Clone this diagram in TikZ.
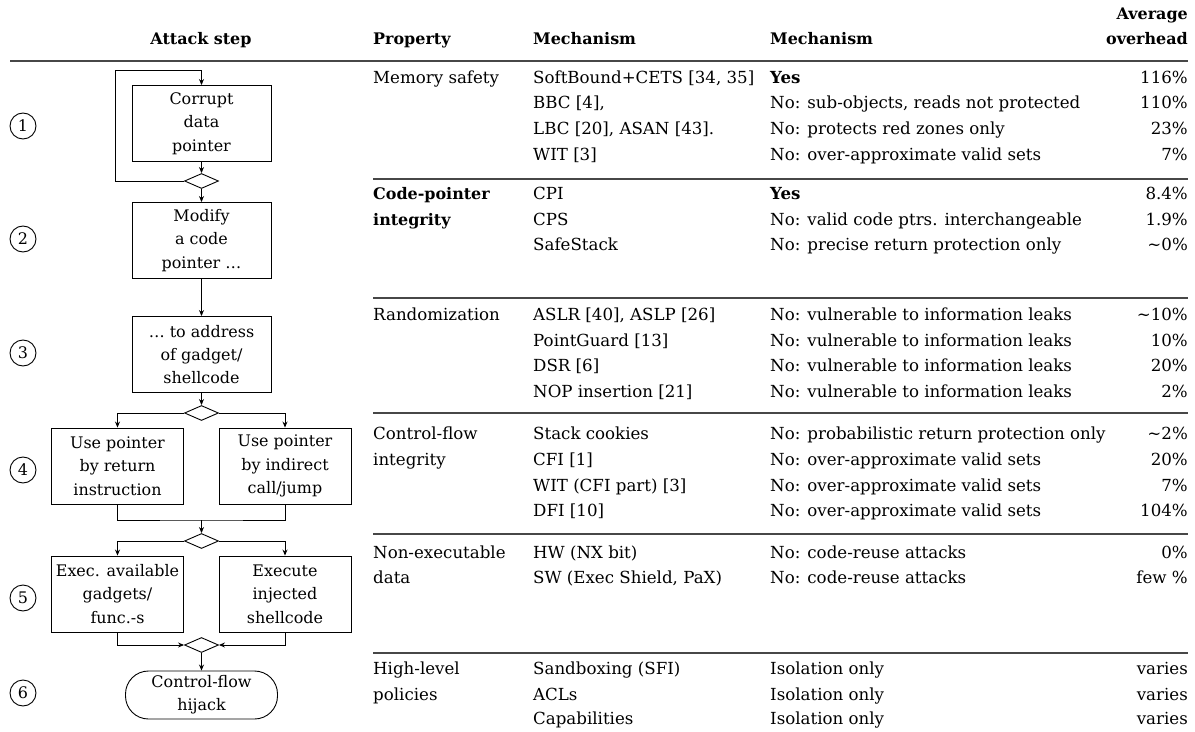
\documentclass[tikz,border=0pt]{standalone}
\usepackage{fontspec}
\setmainfont{DejaVu Serif}
\usetikzlibrary{shapes.geometric,arrows.meta}

% one row of the table: name, y, mechanism, verdict, overhead
\newcommand\trow[5]{%
  \node[cell] (m#1) at (533,#2) {#3};
  \node[cell] (s#1) at (770,#2) {#4};
  \node[ovh]  (o#1) at (1188,#2) {#5};}

\begin{document}
\begin{tikzpicture}[x=1bp,y=-1bp,
  every node/.style={font=\fontsize{16}{23.5}\selectfont},
  flow/.style={draw,line width=0.9bp,align=center,inner sep=0,minimum height=76bp},
  wide/.style={flow,minimum width=139bp},
  half/.style={flow,minimum width=132bp},
  gate/.style={draw,line width=0.9bp,diamond,shape aspect=2.27,inner sep=0,
               minimum width=34bp,minimum height=15bp},
  stepno/.style={draw,circle,line width=0.9bp,minimum size=26bp,inner sep=0},
  link/.style={line width=0.9bp,-{Stealth[length=6bp,width=5bp]}},
  wire/.style={line width=0.9bp},
  cell/.style={anchor=mid west,inner sep=0,font=\fontsize{16.7}{23.5}\selectfont},
  ovh/.style={anchor=mid east,inner sep=0,font=\fontsize{16.7}{23.5}\selectfont},
  head/.style={font=\fontsize{16}{23.5}\selectfont\bfseries},
  rule/.style={line width=1.4bp,draw=black!72}]

\path[use as bounding box] (0,0) rectangle (1195,732);

% ---------- headings ----------
\node[anchor=mid,head]      (hA) at (201,42) {Attack step};
\node[cell,head]            (hP) at (373,42) {Property};
\node[cell,head]            (hM) at (533,42) {Mechanism};
\node[cell,head]            (hS) at (770,42) {Mechanism};
\node[ovh,head]             (hO1) at (1188,17) {Average};
\node[ovh,head]             (hO2) at (1188,42) {overhead};
\draw[rule] (10,61) -- (1188,61);

% ---------- attack-step flow ----------
\node[stepno] (c1) at (23,126) {1};
\node[stepno] (c2) at (23,239) {2};
\node[stepno] (c3) at (23,353) {3};
\node[stepno] (c4) at (23,470) {4};
\node[stepno] (c5) at (23,598) {5};
\node[stepno] (c6) at (23,693) {6};

\node[wide] (b1) at (201.5,123.5) {Corrupt\\data\\pointer};
\node[gate] (d1) at (201.5,181) {};
\node[wide] (b2) at (201.5,240.5) {Modify\\a code\\pointer \ldots};
\node[wide] (b3) at (201.5,354.5) {\ldots\ to address\\of gadget/\\shellcode};
\node[gate] (d2) at (201.5,413) {};
\node[half] (b4l) at (117.5,466) {Use pointer\\by return\\instruction};
\node[half] (b4r) at (285,466) {Use pointer\\by indirect\\call/jump};
\coordinate (j4) at (201.5,520);
\node[gate] (d3) at (201.5,541) {};
\node[half] (b5l) at (117.5,594) {Exec. available\\gadgets/\\func.-s};
\node[half] (b5r) at (285,594) {Execute\\injected\\shellcode};
\node[gate] (d4) at (201.5,645) {};
\node[draw,line width=0.9bp,rounded corners=23bp,minimum width=152bp,minimum height=48bp,
      align=center,inner sep=0] (end) at (201.5,695) {Control-flow\\hijack};

\coordinate (loopA) at (115,181);
\coordinate (loopB) at (115,70);
\draw[link] (b1) -- (d1);
\draw[link] (d1.west) -- (loopA) -- (loopB) -| (b1.north);
\draw[link] (d1) -- (b2);
\draw[link] (b2) -- (b3);
\draw[link] (b3) -- (d2);
\draw[link] (d2.west) -| (b4l.north);
\draw[link] (d2.east) -| (b4r.north);
\draw[wire] (b4l.south) |- (j4) -| (b4r.south);
\draw[link] (j4) -- (d3);
\draw[link] (d3.west) -| (b5l.north);
\draw[link] (d3.east) -| (b5r.north);
\draw[link] (b5l.south) |- (d4.west);
\draw[link] (b5r.south) |- (d4.east);
\draw[link] (d4) -- (end);

% ---------- table: memory safety ----------
\node[cell] (p1) at (373,80.5) {Memory safety};
\trow{1}{80.5}{SoftBound+CETS [34, 35]}{\textbf{Yes}}{116\%}
\trow{2}{106.2}{BBC [4],}{No: sub-objects, reads not protected}{110\%}
\trow{3}{131.9}{LBC [20], ASAN [43].}{No: protects red zones only}{23\%}
\trow{4}{157.6}{WIT [3]}{No: over-approximate valid sets}{7\%}
\draw[rule] (373,179) -- (1188,179);

% ---------- code-pointer integrity ----------
\node[cell,head] (p2a) at (373,197) {Code-pointer};
\node[cell,head] (p2b) at (373,223) {integrity};
\trow{5}{197}{CPI}{\textbf{Yes}}{8.4\%}
\trow{6}{223}{CPS}{No: valid code ptrs. interchangeable}{1.9\%}
\trow{7}{248}{SafeStack}{No: precise return protection only}{\textasciitilde0\%}
\draw[rule] (373,298) -- (1188,298);

% ---------- randomization ----------
\node[cell] (p3) at (373,318) {Randomization};
\trow{8}{318}{ASLR [40], ASLP [26]}{No: vulnerable to information leaks}{\textasciitilde10\%}
\trow{9}{343.5}{PointGuard [13]}{No: vulnerable to information leaks}{10\%}
\trow{10}{369}{DSR [6]}{No: vulnerable to information leaks}{20\%}
\trow{11}{394.5}{NOP insertion [21]}{No: vulnerable to information leaks}{2\%}
\draw[rule] (373,413) -- (1188,413);

% ---------- control-flow integrity ----------
\node[cell] (p4a) at (373,437) {Control-flow};
\node[cell] (p4b) at (373,463) {integrity};
\trow{12}{437}{Stack cookies}{No: probabilistic return protection only}{\textasciitilde2\%}
\trow{13}{463}{CFI [1]}{No: over-approximate valid sets}{20\%}
\trow{14}{489}{WIT (CFI part) [3]}{No: over-approximate valid sets}{7\%}
\trow{15}{514}{DFI [10]}{No: over-approximate valid sets}{104\%}
\draw[rule] (373,534) -- (1188,534);

% ---------- non-executable data ----------
\node[cell] (p5a) at (373,556) {Non-executable};
\node[cell] (p5b) at (373,581) {data};
\trow{16}{556}{HW (NX bit)}{No: code-reuse attacks}{0\%}
\trow{17}{581}{SW (Exec Shield, PaX)}{No: code-reuse attacks}{few \%}
\draw[rule] (373,653) -- (1188,653);

% ---------- high-level policies ----------
\node[cell] (p6a) at (373,672) {High-level};
\node[cell] (p6b) at (373,698) {policies};
\trow{18}{672}{Sandboxing (SFI)}{Isolation only}{varies}
\trow{19}{698}{ACLs}{Isolation only}{varies}
\trow{20}{722}{Capabilities}{Isolation only}{varies}

\end{tikzpicture}
\end{document}
